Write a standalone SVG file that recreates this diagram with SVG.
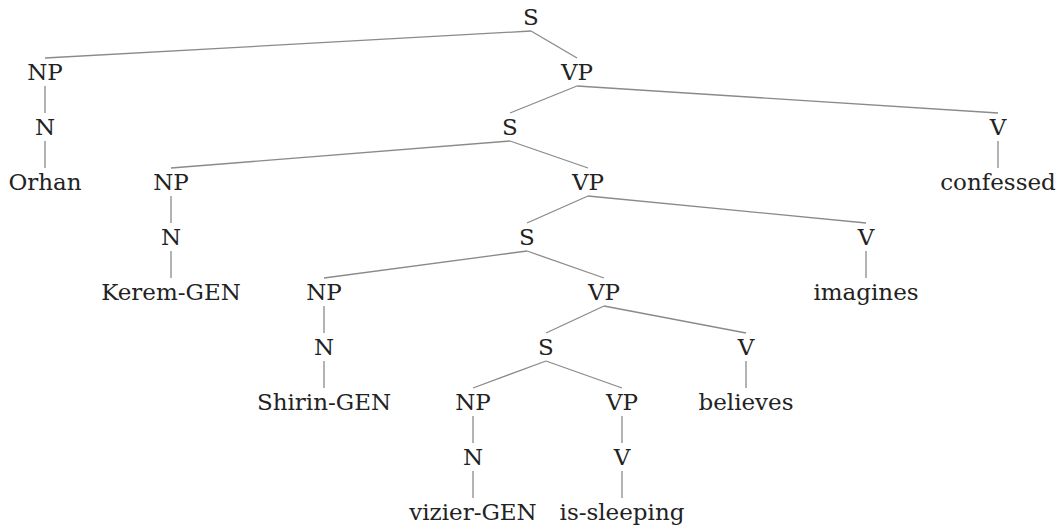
<svg xmlns="http://www.w3.org/2000/svg" width="1058" height="529" viewBox="0 0 1058 529">
<style>
text{font-family:"DejaVu Serif",serif;font-size:23px;fill:#222;text-anchor:middle}
.e line{stroke:#8a8a8a;stroke-width:1.3}
</style>
<rect width="1058" height="529" fill="#fff"/>
<g class="e" id="connectors">
<line x1="531" y1="31" x2="45" y2="58"/>
<line x1="531" y1="31" x2="577" y2="58"/>
<line x1="45" y1="86" x2="45" y2="113"/>
<line x1="45" y1="141" x2="45" y2="168"/>
<line x1="577" y1="86" x2="510" y2="113"/>
<line x1="577" y1="86" x2="998" y2="113"/>
<line x1="998" y1="141" x2="998" y2="168"/>
<line x1="510" y1="141" x2="171" y2="168"/>
<line x1="510" y1="141" x2="588" y2="168"/>
<line x1="171" y1="196" x2="171" y2="223"/>
<line x1="171" y1="251" x2="171" y2="278"/>
<line x1="588" y1="196" x2="527" y2="223"/>
<line x1="588" y1="196" x2="866" y2="223"/>
<line x1="866" y1="251" x2="866" y2="278"/>
<line x1="527" y1="251" x2="324" y2="278"/>
<line x1="527" y1="251" x2="604" y2="278"/>
<line x1="324" y1="306" x2="324" y2="333"/>
<line x1="324" y1="361" x2="324" y2="388"/>
<line x1="604" y1="306" x2="546" y2="333"/>
<line x1="604" y1="306" x2="746" y2="333"/>
<line x1="746" y1="361" x2="746" y2="388"/>
<line x1="546" y1="361" x2="473" y2="388"/>
<line x1="546" y1="361" x2="622" y2="388"/>
<line x1="473" y1="416" x2="473" y2="443"/>
<line x1="473" y1="471" x2="473" y2="498"/>
<line x1="622" y1="416" x2="622" y2="443"/>
<line x1="622" y1="471" x2="622" y2="498"/>
</g>
<g id="n1"><text x="531" y="25">S</text></g>
<g id="n2"><text x="45" y="80">NP</text></g>
<g id="n3"><text x="577" y="80">VP</text></g>
<g id="n4"><text x="45" y="135">N</text></g>
<g id="n5"><text x="45" y="190">Orhan</text></g>
<g id="n6"><text x="510" y="135">S</text></g>
<g id="n7"><text x="998" y="135">V</text></g>
<g id="n8"><text x="998" y="190">confessed</text></g>
<g id="n9"><text x="171" y="190">NP</text></g>
<g id="n10"><text x="588" y="190">VP</text></g>
<g id="n11"><text x="171" y="245">N</text></g>
<g id="n12"><text x="171" y="300">Kerem-GEN</text></g>
<g id="n13"><text x="527" y="245">S</text></g>
<g id="n14"><text x="866" y="245">V</text></g>
<g id="n15"><text x="866" y="300">imagines</text></g>
<g id="n16"><text x="324" y="300">NP</text></g>
<g id="n17"><text x="604" y="300">VP</text></g>
<g id="n18"><text x="324" y="355">N</text></g>
<g id="n19"><text x="324" y="410">Shirin-GEN</text></g>
<g id="n20"><text x="546" y="355">S</text></g>
<g id="n21"><text x="746" y="355">V</text></g>
<g id="n22"><text x="746" y="410">believes</text></g>
<g id="n23"><text x="473" y="410">NP</text></g>
<g id="n24"><text x="622" y="410">VP</text></g>
<g id="n25"><text x="473" y="465">N</text></g>
<g id="n26"><text x="473" y="520">vizier-GEN</text></g>
<g id="n27"><text x="622" y="465">V</text></g>
<g id="n28"><text x="622" y="520">is-sleeping</text></g>
</svg>
